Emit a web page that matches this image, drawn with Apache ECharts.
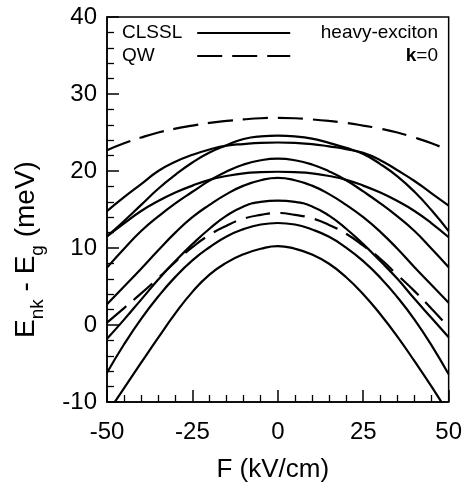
<!DOCTYPE html>
<html><head><meta charset="utf-8">
<script src="https://cdn.jsdelivr.net/npm/echarts@6/dist/echarts.min.js"></script>
<style>html,body{margin:0;padding:0;background:#fff}#c{width:465px;height:488px}</style>
</head><body><div id="c"></div>
<script>
// Electric field F (kV/cm)
const fieldKVcm = [-50,-45,-40,-35,-30,-25,-20,-15,-10,-5,0,5,10,15,20,25,30,35,40,45,50];

// CLSSL heavy-exciton levels (meV), solid curves
const clsslA = [11.5,13.5,15.6,17.7,19.5,21.1,22.4,23.35,24.15,24.5,24.6,24.5,24.2,23.65,23.0,22.2,20.9,19.3,17.3,14.9,12.2];
const clsslB = [14.8,16.6,18.3,20.0,21.2,22.1,22.8,23.3,23.5,23.65,23.7,23.65,23.5,23.2,22.85,22.35,21.4,20.1,18.7,17.1,15.5];
const clsslC = [7.45,9.9,12.2,14.1,15.8,17.3,18.75,19.95,20.85,21.4,21.6,21.4,20.85,19.95,18.8,17.35,15.8,14.1,12.2,9.9,7.5];
const clsslD = [11.5,13.2,14.8,16.1,17.2,18.1,18.85,19.35,19.7,19.85,19.9,19.85,19.7,19.35,18.85,18.1,17.2,16.1,14.8,13.2,11.4];
const clsslE = [2.7,5.0,7.3,9.7,12.0,14.0,15.6,17.0,18.1,18.8,19.1,18.8,18.1,17.0,15.6,14.0,12.1,9.9,7.5,5.2,2.9];
const clsslF = [-1.8,0.7,3.3,5.9,8.3,10.5,12.5,14.2,15.4,16.0,16.15,16.0,15.4,14.2,12.5,10.5,8.3,6.0,3.4,0.9,-1.6];
const clsslG = [-6.2,-2.5,0.8,3.7,6.25,8.4,10.1,11.5,12.45,13.05,13.25,13.05,12.4,11.45,10.05,8.3,6.15,3.6,0.7,-2.65,-6.4];
const clsslH = [-11.5,-8.2,-4.9,-1.65,1.5,4.3,6.55,8.1,9.2,9.9,10.25,9.9,9.15,7.95,6.2,4.0,1.4,-1.5,-4.7,-8.0,-11.5];

// QW heavy-exciton levels (meV), dashed curves
const qwUpper = [22.7,23.6,24.35,25.0,25.5,25.9,26.25,26.5,26.7,26.85,26.9,26.85,26.7,26.5,26.25,25.9,25.5,25.0,24.35,23.6,22.7];
const qwLower = [0.3,2.2,4.1,6.1,8.2,10.1,11.7,12.9,13.8,14.3,14.55,14.3,13.85,13.0,11.85,10.3,8.6,6.5,4.4,2.1,-0.3];

const xTickValues = [-50,-25,0,25,50];
const yTickValues = [-10,0,10,20,30,40];

const FONT = 'Liberation Sans';
const clsslCurves = [clsslA, clsslB, clsslC, clsslD, clsslE, clsslF, clsslG, clsslH];
const qwCurves = [qwUpper, qwLower];

function mk(name, vals, dash) {
  return {
    type: 'line', name: name,
    data: fieldKVcm.map((f, i) => [f, vals[i]]),
    smooth: true, symbol: 'none', silent: true,
    lineStyle: { color: '#000', width: 2.2, type: dash ? [25, 10] : 'solid' },
    itemStyle: { color: '#000' },
    animation: false
  };
}
const series = [];
clsslCurves.forEach(v => series.push(mk('CLSSL', v, false)));
qwCurves.forEach(v => series.push(mk('QW', v, true)));

const legendBase = {
  orient: 'horizontal', align: 'right', padding: 0,
  itemWidth: 93, itemHeight: 19, selectedMode: false,
  itemStyle: { opacity: 0 },
  lineStyle: { width: 2.2 }
};

const chart = echarts.init(document.getElementById('c'), null, { renderer: 'canvas' });
chart.setOption({
  animation: false,
  backgroundColor: '#fff',
  grid: { left: 107, right: 14, top: 17, bottom: 85, show: true, borderColor: '#000', borderWidth: 1.5, backgroundColor: 'transparent' },
  xAxis: {
    type: 'value', min: xTickValues[0], max: xTickValues[xTickValues.length - 1], interval: 25,
    name: 'F (kV/cm)', nameLocation: 'middle', nameGap: 55,
    nameTextStyle: { fontFamily: FONT, fontSize: 26, color: '#000', lineHeight: 26, padding: [0, 10, 0, 0] },
    axisLine: { onZero: false, lineStyle: { color: '#000', width: 1.5 } },
    axisTick: { inside: true, length: 12, lineStyle: { color: '#000', width: 1.5 } },
    minorTick: { show: true, splitNumber: 5, length: 7, lineStyle: { color: '#000', width: 1.3 } },
    splitLine: { show: false },
    axisLabel: { fontFamily: FONT, fontSize: 24, color: '#000', margin: 18 }
  },
  yAxis: {
    type: 'value', min: yTickValues[0], max: yTickValues[yTickValues.length - 1], interval: 10,
    name: '{a|E}{s|nk}{a| - E}{s|g}{a| (meV)}', nameLocation: 'middle', nameGap: 60, nameRotate: 90,
    nameTextStyle: {
      fontFamily: FONT, fontSize: 28, color: '#000', padding: [0, 80, 0, 0],
      rich: {
        a: { fontFamily: FONT, fontSize: 28, color: '#000', lineHeight: 42 },
        s: { fontFamily: FONT, fontSize: 19, color: '#000', lineHeight: 19, verticalAlign: 'bottom' }
      }
    },
    axisLine: { onZero: false, lineStyle: { color: '#000', width: 1.5 } },
    axisTick: { inside: true, length: 12, lineStyle: { color: '#000', width: 1.5 } },
    minorTick: { show: true, splitNumber: 5, length: 7, lineStyle: { color: '#000', width: 1.3 } },
    splitLine: { show: false },
    axisLabel: { fontFamily: FONT, fontSize: 24, color: '#000', margin: 10 }
  },
  legend: [
    Object.assign({}, legendBase, { data: ['CLSSL'], left: 122, top: 23.5,
      textStyle: { fontFamily: FONT, fontSize: 19, color: '#000', padding: [0, 10, 0, 0] } }),
    Object.assign({}, legendBase, { data: ['QW'], left: 122, top: 46.5,
      textStyle: { fontFamily: FONT, fontSize: 19, color: '#000', padding: [0, 37.5, 0, 0] } })
  ],
  graphic: [
    { type: 'text', x: 438, y: 33, silent: true,
      style: { text: 'heavy-exciton', align: 'right', verticalAlign: 'middle', fontFamily: FONT, fontSize: 19, fill: '#000' } },
    { type: 'text', x: 438, y: 56, silent: true,
      style: { text: '{b|k}=0', align: 'right', verticalAlign: 'middle', fontFamily: FONT, fontSize: 19, fill: '#000',
        rich: { b: { fontFamily: FONT, fontSize: 19, fontWeight: 'bold', fill: '#000' } } } }
  ],
  series: series
});
</script>
</body></html>
